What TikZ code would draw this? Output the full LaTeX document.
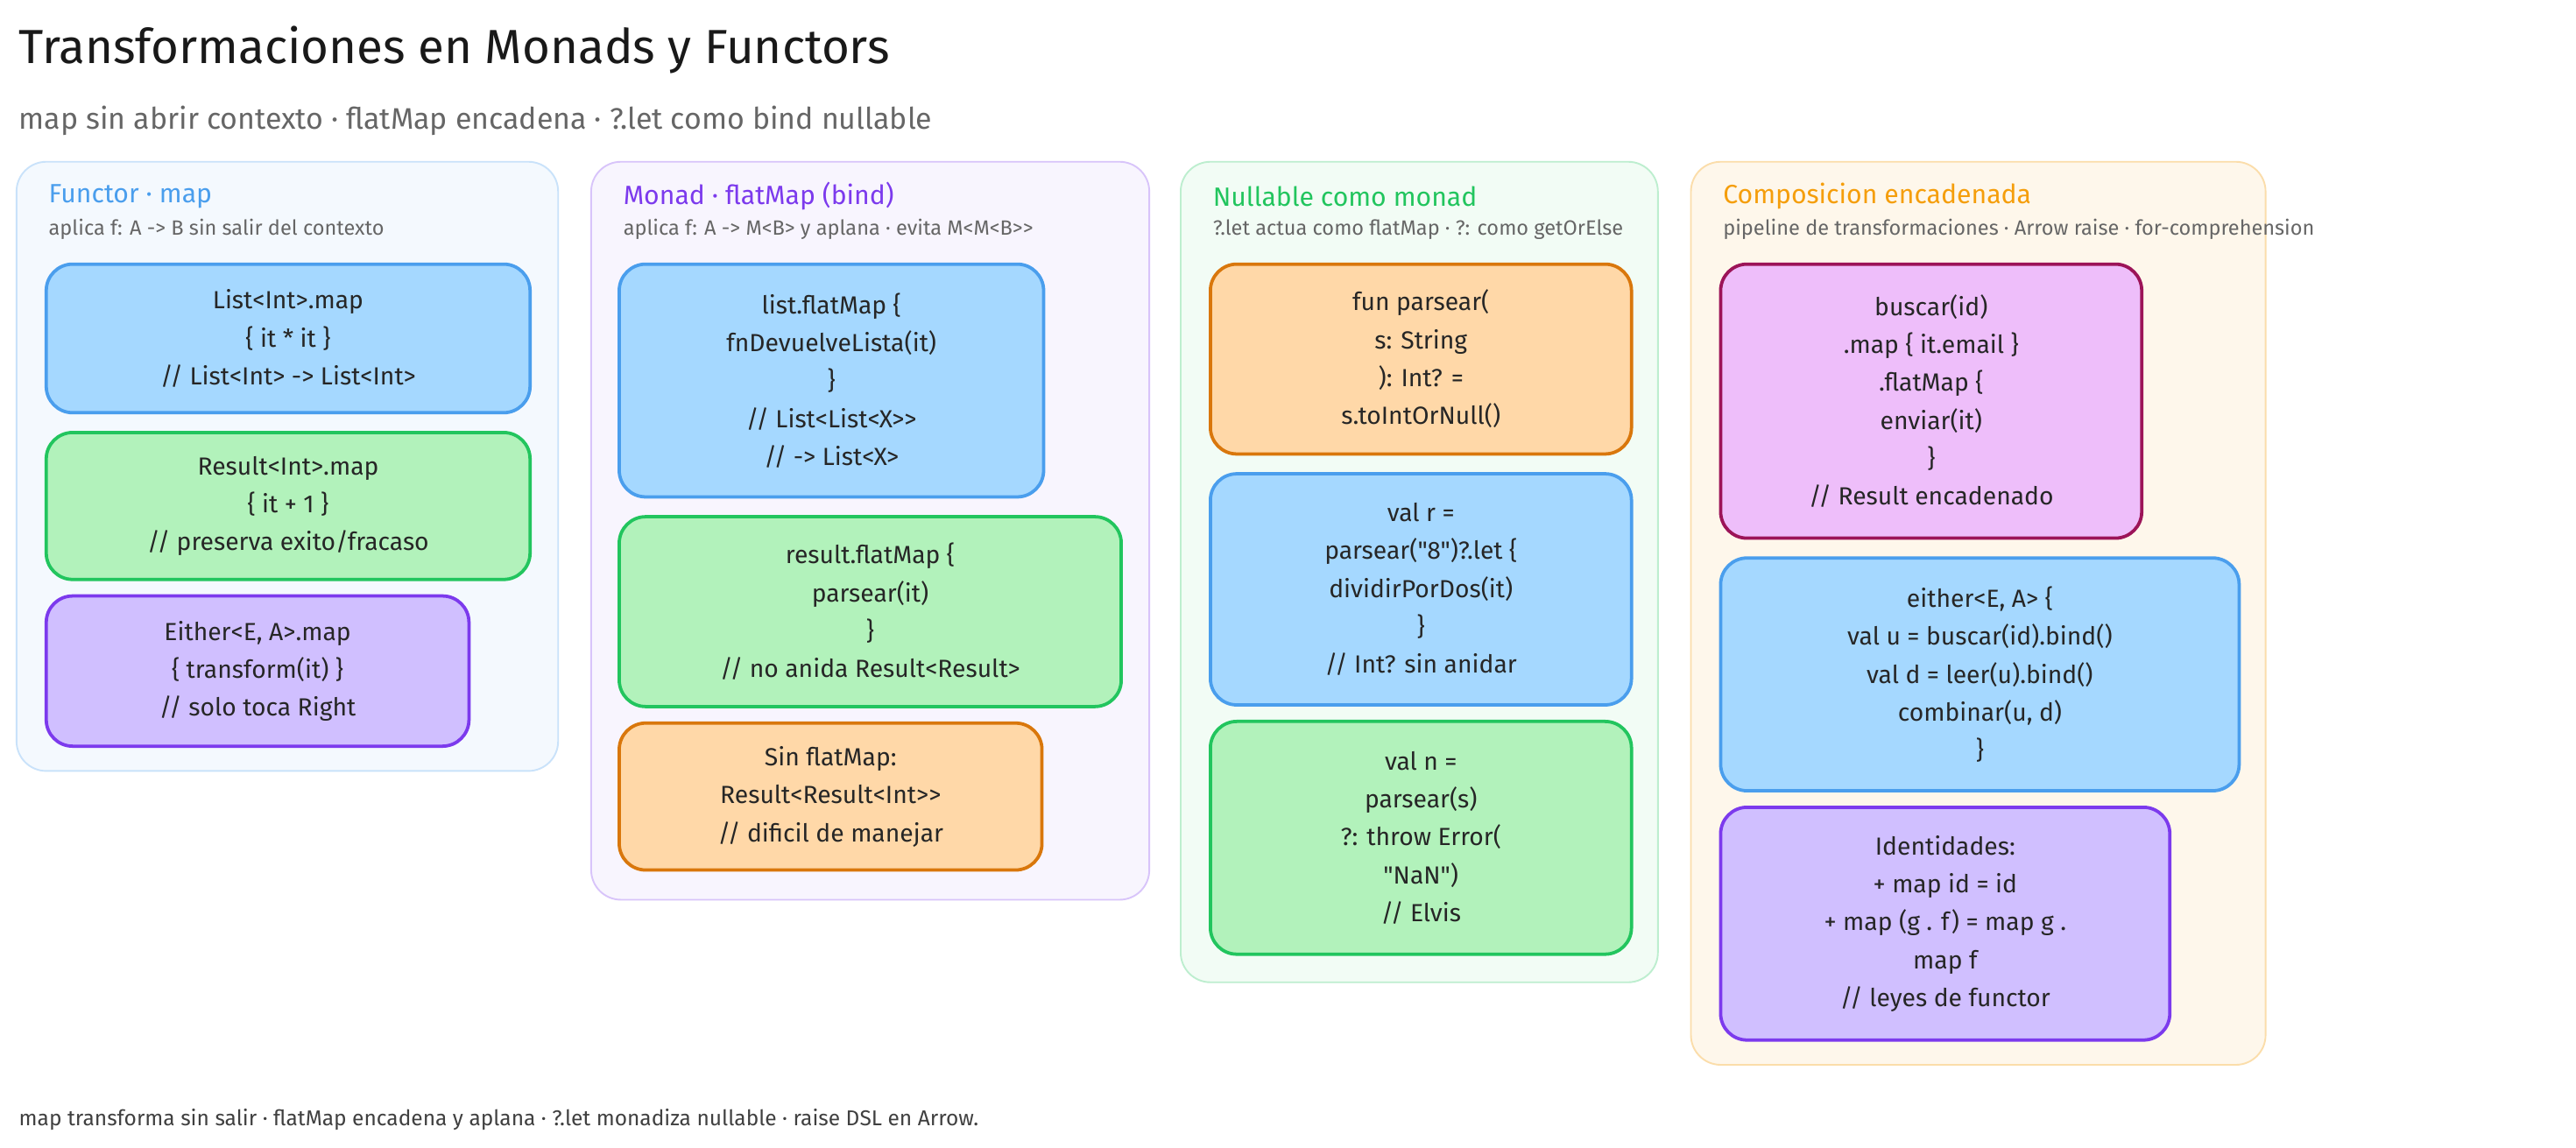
\documentclass[tikz,border=0pt]{standalone}
\usepackage{fontspec}
\setmainfont{Fira Sans}[Ligatures=TeXOff]
\begin{document}
\begin{tikzpicture}[x=1pt,y=-1pt,
 panel/.style={draw=#1, line width=1pt, rounded corners=18pt},
 box/.style={rounded corners=16pt, line width=2pt, align=center, font=\fontsize{15}{23}\selectfont, text=black!85},
 head/.style={anchor=west, font=\fontsize{16}{18}\selectfont},
 sub/.style={anchor=west, font=\fontsize{12.5}{14}\selectfont, text=black!60},
 bluebox/.style={box, fill=cBlue, draw=cBlueD},
 greenbox/.style={box, fill=cGreen, draw=cGreenD},
 purplebox/.style={box, fill=cPurple, draw=cPurpleD},
 orangebox/.style={box, fill=cOrange, draw=cOrangeD},
 pinkbox/.style={box, fill=cPink, draw=cPinkD}]
\definecolor{cBlue}{HTML}{A5D8FF}\definecolor{cBlueD}{HTML}{4A9EED}
\definecolor{cGreen}{HTML}{B2F2BB}\definecolor{cGreenD}{HTML}{22C55E}
\definecolor{cPurple}{HTML}{D0BFFF}\definecolor{cPurpleD}{HTML}{7C3AED}
\definecolor{cOrange}{HTML}{FFD8A8}\definecolor{cOrangeD}{HTML}{D9770C}
\definecolor{cPink}{HTML}{EEBEFA}\definecolor{cPinkD}{HTML}{9C1458}
\definecolor{cYel}{HTML}{F59E0B}
\useasboundingbox (0,0) rectangle (1560,695);
\fill[white] (0,0) rectangle (1560,695);
\node[anchor=west, font=\fontsize{29}{32}\selectfont, text=black!90] (title) at (8,30) {Transformaciones en Monads y Functors};
\node[anchor=west, font=\fontsize{18}{20}\selectfont, text=black!60] (subtitle) at (8,73) {map sin abrir contexto · flatMap encadena · ?.let como bind nullable};
% panels
\draw[panel=cBlueD!30, fill=cBlueD!6] (10,98) rectangle (338,467);
\draw[panel=cPurpleD!30, fill=cPurpleD!5] (358,98) rectangle (696,545);
\draw[panel=cGreenD!30, fill=cGreenD!6] (715,98) rectangle (1004,595);
\draw[panel=cYel!35, fill=cYel!8] (1024,98) rectangle (1372,645);
\node[head, text=cBlueD] (h1) at (26,119) {Functor · map};
\node[sub] (s1) at (26,139) {aplica f: A -> B sin salir del contexto};
\node[head, text=cPurpleD] (h2) at (374,119) {Monad · flatMap (bind)};
\node[sub] (s2) at (374,139) {aplica f: A -> M<B> y aplana · evita M<M<B>>};
\node[head, text=cGreenD] (h3) at (731,119) {Nullable como monad};
\node[sub] (s3) at (731,139) {?.let actua como flatMap · ?: como getOrElse};
\node[head, text=cYel] (h4) at (1040,119) {Composicion encadenada};
\node[sub] (s4) at (1040,139) {pipeline de transformaciones · Arrow raise · for-comprehension};
% panel 1
\node[bluebox, minimum width=293pt, minimum height=90pt] (a1) at (174.5,205) {List<Int>.map\\ \{ it * it \}\\ // List<Int> -> List<Int>};
\node[greenbox, minimum width=293pt, minimum height=89pt] (a2) at (174.5,306.5) {Result<Int>.map\\ \{ it + 1 \}\\ // preserva exito/fracaso};
\node[purplebox, minimum width=256pt, minimum height=91pt] (a3) at (156,406.5) {Either<E, A>.map\\ \{ transform(it) \}\\ // solo toca Right};
% panel 2
\node[bluebox, minimum width=257pt, minimum height=141pt] (b1) at (503.5,230.5) {list.flatMap \{\\ fnDevuelveLista(it)\\ \}\\ // List<List<X>>\\ // -> List<X>};
\node[greenbox, minimum width=304pt, minimum height=115pt] (b2) at (527,370.5) {result.flatMap \{\\ parsear(it)\\ \}\\ // no anida Result<Result>};
\node[orangebox, minimum width=256pt, minimum height=89pt] (b3) at (503,482.5) {Sin flatMap:\\ Result<Result<Int>>\\ // dificil de manejar};
% panel 3
\node[orangebox, minimum width=255pt, minimum height=115pt] (c1) at (860.5,217.5) {fun parsear(\\ s: String\\ ): Int? =\\ s.toIntOrNull()};
\node[bluebox, minimum width=255pt, minimum height=140pt] (c2) at (860.5,357) {val r =\\ parsear("8")?.let \{\\ dividirPorDos(it)\\ \}\\ // Int? sin anidar};
\node[greenbox, minimum width=255pt, minimum height=141pt] (c3) at (860.5,507.5) {val n =\\ parsear(s)\\ ?: throw Error(\\ "NaN")\\ // Elvis};
% panel 4
\node[pinkbox, minimum width=255pt, minimum height=166pt] (d1) at (1169.5,243) {buscar(id)\\ .map \{ it.email \}\\ .flatMap \{\\ enviar(it)\\ \}\\ // Result encadenado};
\node[bluebox, minimum width=314pt, minimum height=141pt] (d2) at (1199,408.5) {either<E, A> \{\\ val u = buscar(id).bind()\\ val d = leer(u).bind()\\ combinar(u, d)\\ \}};
\node[purplebox, minimum width=272pt, minimum height=141pt] (d3) at (1178,559.5) {Identidades:\\ + map id = id\\ + map (g . f) = map g .\\ map f\\ // leyes de functor};
\node[anchor=west, font=\fontsize{13}{15}\selectfont, text=black!75] (foot) at (8,678) {map transforma sin salir · flatMap encadena y aplana · ?.let monadiza nullable · raise DSL en Arrow.};
\end{tikzpicture}
\end{document}
